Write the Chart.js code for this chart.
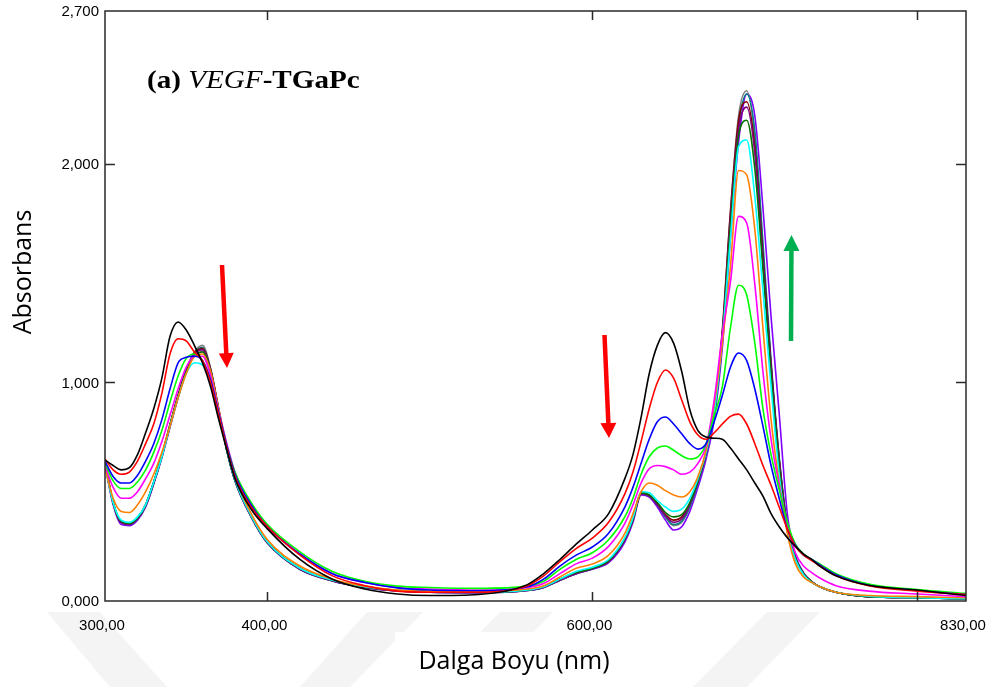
<!DOCTYPE html>
<html>
<head>
<meta charset="utf-8">
<script src="https://cdn.jsdelivr.net/npm/chart.js@4.4.1/dist/chart.umd.min.js"></script>
<style>
body { margin: 0; background: #fff; }
</style>
</head>
<body>
<canvas id="spectra" width="995" height="687"></canvas>
<script>
// wavelengths (nm) shared by every spectrum
const wavelengths = [300,305,310,315,320,325,330,335,340,345, 350,355,360,365,370,375,380,390,400,420,
    440,460,480,500,530,560,570,580,590,600, 610,620,625,630,635,640,645,650,655,660,
    665,670,675,680,685,690,695,700,705,710, 715,720,725,730,735,740,750,770,800,830];

const absBlack = [0.645,0.62,0.60,0.61,0.67,0.77,0.88,1.02,1.21,1.277, 1.24,1.17,1.09,0.98,0.83,0.69,0.56,0.42,0.33,0.19,
    0.10,0.055,0.032,0.025,0.03,0.075,0.125,0.19,0.26,0.325, 0.40,0.56,0.67,0.84,1.04,1.17,1.228,1.18,1.05,0.875,
    0.78,0.75,0.745,0.74,0.70,0.65,0.60,0.54,0.48,0.40, 0.34,0.29,0.25,0.215,0.19,0.16,0.115,0.072,0.05,0.025];
const absRed = [0.65,0.60,0.58,0.59,0.64,0.72,0.81,0.95,1.13,1.20, 1.19,1.14,1.10,1.00,0.85,0.70,0.57,0.43,0.34,0.21,
    0.115,0.07,0.045,0.04,0.04,0.07,0.115,0.18,0.24,0.288, 0.36,0.49,0.59,0.73,0.88,1.00,1.057,1.02,0.92,0.82,
    0.76,0.74,0.77,0.81,0.845,0.855,0.81,0.72,0.62,0.53, 0.43,0.33,0.25,0.21,0.185,0.16,0.115,0.07,0.045,0.03];
const absBlue = [0.64,0.57,0.54,0.54,0.575,0.64,0.72,0.83,0.97,1.09, 1.115,1.12,1.10,1.01,0.86,0.71,0.58,0.44,0.34,0.215,
    0.125,0.085,0.06,0.05,0.047,0.065,0.10,0.16,0.21,0.247, 0.31,0.43,0.52,0.63,0.74,0.82,0.842,0.81,0.765,0.72,
    0.695,0.72,0.82,0.94,1.07,1.135,1.10,0.97,0.80,0.62, 0.47,0.33,0.255,0.21,0.19,0.165,0.12,0.072,0.048,0.03];
const absGreen = [0.63,0.55,0.515,0.515,0.545,0.60,0.68,0.78,0.91,1.03, 1.11,1.13,1.10,1.01,0.86,0.71,0.59,0.45,0.35,0.225,
    0.135,0.09,0.068,0.062,0.058,0.068,0.09,0.145,0.19,0.221, 0.28,0.385,0.47,0.58,0.66,0.70,0.709,0.69,0.665,0.65,
    0.66,0.72,0.85,0.98,1.25,1.445,1.40,1.18,0.88,0.67, 0.51,0.36,0.26,0.215,0.19,0.17,0.125,0.078,0.052,0.035];
const absMagenta = [0.62,0.52,0.47,0.47,0.50,0.56,0.63,0.73,0.85,0.97, 1.07,1.12,1.12,1.03,0.87,0.72,0.59,0.44,0.345,0.215,
    0.125,0.085,0.062,0.055,0.05,0.062,0.08,0.125,0.17,0.196, 0.25,0.355,0.44,0.54,0.605,0.62,0.615,0.60,0.58,0.59,
    0.63,0.71,0.92,1.22,1.46,1.76,1.73,1.45,1.05,0.74, 0.53,0.35,0.22,0.16,0.13,0.105,0.07,0.045,0.032,0.02];
const absOrange = [0.61,0.47,0.41,0.405,0.44,0.50,0.58,0.68,0.80,0.93, 1.04,1.12,1.13,1.05,0.88,0.71,0.57,0.40,0.28,0.16,
    0.10,0.068,0.05,0.045,0.045,0.055,0.07,0.11,0.15,0.169, 0.21,0.31,0.40,0.50,0.54,0.53,0.505,0.485,0.476,0.50,
    0.57,0.69,0.90,1.18,1.53,1.97,1.95,1.70,1.25,0.83, 0.54,0.31,0.17,0.11,0.085,0.065,0.04,0.025,0.02,0.015];
const absCyan = [0.62,0.45,0.37,0.36,0.385,0.44,0.545,0.66,0.80,0.93, 1.04,1.09,1.08,1.01,0.86,0.69,0.555,0.39,0.27,0.15,
    0.095,0.065,0.048,0.042,0.04,0.05,0.065,0.10,0.135,0.155, 0.19,0.29,0.38,0.50,0.495,0.46,0.43,0.41,0.42,0.47,
    0.56,0.68,0.86,1.20,1.66,2.08,2.11,1.85,1.42,0.98, 0.58,0.32,0.19,0.12,0.085,0.065,0.04,0.022,0.015,0.01];
const absDkGreen = [0.63,0.45,0.365,0.355,0.38,0.44,0.545,0.665,0.805,0.935, 1.05,1.12,1.14,1.05,0.87,0.69,0.555,0.39,0.27,0.15,
    0.095,0.065,0.048,0.042,0.04,0.05,0.065,0.10,0.13,0.15, 0.185,0.285,0.375,0.495,0.485,0.45,0.405,0.385,0.395,0.45,
    0.55,0.68,0.86,1.21,1.72,2.13,2.20,1.98,1.52,1.04, 0.62,0.33,0.195,0.125,0.088,0.065,0.04,0.02,0.015,0.01];
const absPurple = [0.63,0.45,0.36,0.35,0.375,0.435,0.54,0.66,0.80,0.935, 1.055,1.13,1.15,1.055,0.875,0.69,0.55,0.385,0.265,0.145,
    0.092,0.062,0.046,0.04,0.038,0.048,0.062,0.095,0.125,0.148, 0.18,0.28,0.37,0.49,0.48,0.44,0.39,0.36,0.375,0.44,
    0.545,0.675,0.86,1.22,1.75,2.16,2.26,2.05,1.56,1.07, 0.64,0.34,0.195,0.125,0.088,0.065,0.04,0.02,0.015,0.01];
const absMaroon = [0.64,0.45,0.36,0.355,0.38,0.44,0.545,0.665,0.805,0.94, 1.055,1.135,1.155,1.06,0.875,0.69,0.555,0.39,0.27,0.15,
    0.095,0.065,0.048,0.042,0.04,0.05,0.065,0.10,0.13,0.15, 0.185,0.285,0.375,0.495,0.485,0.445,0.395,0.37,0.385,0.445,
    0.55,0.68,0.87,1.24,1.78,2.20,2.285,2.08,1.58,1.08, 0.65,0.34,0.195,0.125,0.088,0.065,0.04,0.02,0.015,0.01];
const absTeal = [0.63,0.45,0.36,0.35,0.375,0.435,0.54,0.66,0.80,0.935, 1.055,1.135,1.16,1.06,0.875,0.69,0.55,0.385,0.265,0.145,
    0.092,0.062,0.046,0.04,0.038,0.048,0.062,0.095,0.125,0.148, 0.18,0.28,0.37,0.49,0.48,0.44,0.385,0.35,0.365,0.43,
    0.54,0.67,0.85,1.19,1.72,2.17,2.32,2.15,1.64,1.10, 0.66,0.35,0.20,0.125,0.088,0.065,0.04,0.02,0.015,0.01];
const absGray = [0.64,0.45,0.36,0.355,0.38,0.44,0.545,0.665,0.81,0.945, 1.06,1.14,1.17,1.065,0.88,0.69,0.555,0.39,0.27,0.15,
    0.095,0.065,0.048,0.042,0.04,0.05,0.065,0.10,0.13,0.15, 0.185,0.285,0.375,0.495,0.485,0.445,0.385,0.345,0.36,0.43,
    0.545,0.675,0.86,1.22,1.78,2.22,2.335,2.12,1.60,1.08, 0.65,0.34,0.195,0.125,0.088,0.065,0.04,0.02,0.015,0.01];
const absViolet = [0.62,0.44,0.35,0.345,0.37,0.43,0.535,0.655,0.795,0.93, 1.05,1.13,1.15,1.055,0.875,0.69,0.55,0.385,0.265,0.145,
    0.092,0.062,0.046,0.04,0.038,0.048,0.062,0.095,0.125,0.145, 0.175,0.27,0.36,0.485,0.475,0.43,0.37,0.325,0.34,0.41,
    0.52,0.65,0.83,1.16,1.66,2.10,2.32,2.22,1.80,1.30, 0.86,0.40,0.21,0.13,0.09,0.065,0.04,0.02,0.015,0.01];

// axis ticks and labels
const xTickValues = [400, 600, 800];
const xLabelValues = [300, 400, 600, 830];
const yTickValues = [1, 2];
const yLabelValues = [0, 1, 2, 2.7];

const spectra = [absBlack, absRed, absBlue, absGreen, absMagenta, absOrange, absCyan,
    absDkGreen, absPurple, absMaroon, absTeal, absGray, absViolet];
const lineColors = ['#000000', '#ff0000', '#0000ff', '#00ff00', '#ff00ff', '#ff8000', '#00ffff',
    '#007000', '#800080', '#800000', '#008080', '#808080', '#8000ff'];

function drawArrow(ctx, x1, y1, x2, y2, shaftW, headW, headL, color) {
    let dx = x2 - x1, dy = y2 - y1;
    let len = Math.sqrt(dx * dx + dy * dy);
    let ux = dx / len, uy = dy / len;
    let px = -uy, py = ux;
    let bx = x2 - ux * headL, by = y2 - uy * headL;
    ctx.fillStyle = color;
    ctx.beginPath();
    ctx.moveTo(x1 + px * shaftW / 2, y1 + py * shaftW / 2);
    ctx.lineTo(bx + px * shaftW / 2, by + py * shaftW / 2);
    ctx.lineTo(bx + px * headW / 2, by + py * headW / 2);
    ctx.lineTo(x2, y2);
    ctx.lineTo(bx - px * headW / 2, by - py * headW / 2);
    ctx.lineTo(bx - px * shaftW / 2, by - py * shaftW / 2);
    ctx.lineTo(x1 - px * shaftW / 2, y1 - py * shaftW / 2);
    ctx.closePath();
    ctx.fill();
}

const decor = {
    id: 'decor',
    beforeDraw(chart) {
        let ctx = chart.ctx;
        ctx.save();
        ctx.fillStyle = '#ffffff';
        ctx.fillRect(0, 0, chart.width, chart.height);
        // faint watermark bands under the axis
        ctx.fillStyle = '#f4f4f4';
        [
            [[47, 612], [100, 612], [167, 687], [110, 687]],
            [[367, 612], [423, 612], [350, 687], [300, 687]],
            [[500, 612], [553, 612], [480, 687], [427, 687]],
            [[767, 612], [820, 612], [747, 687], [693, 687]]
        ].forEach(poly => {
            ctx.beginPath();
            ctx.moveTo(poly[0][0], poly[0][1]);
            poly.slice(1).forEach(p => ctx.lineTo(p[0], p[1]));
            ctx.closePath();
            ctx.fill();
        });
        ctx.fillStyle = '#ffffff';
        ctx.fillRect(395, 632, 278, 55);
        ctx.restore();
    },
    afterDatasetsDraw(chart) {
        let ctx = chart.ctx;
        let a = chart.chartArea;
        let xs = chart.scales.x, ys = chart.scales.y;
        ctx.save();

        // frame
        ctx.strokeStyle = '#2a2a2a';
        ctx.lineWidth = 1.5;
        ctx.strokeRect(a.left, a.top, a.right - a.left, a.bottom - a.top);

        // inner ticks
        ctx.beginPath();
        xTickValues.forEach(v => {
            let x = Math.round(xs.getPixelForValue(v)) + 0.5;
            ctx.moveTo(x, a.bottom); ctx.lineTo(x, a.bottom - 9);
            ctx.moveTo(x, a.top); ctx.lineTo(x, a.top + 9);
        });
        yTickValues.forEach(v => {
            let y = Math.round(ys.getPixelForValue(v)) + 0.5;
            ctx.moveTo(a.left, y); ctx.lineTo(a.left + 10, y);
            ctx.moveTo(a.right, y); ctx.lineTo(a.right - 10, y);
        });
        ctx.stroke();

        // tick labels
        ctx.fillStyle = '#000';
        ctx.font = '15px "Liberation Sans", Arial, sans-serif';
        ctx.textAlign = 'center';
        ctx.textBaseline = 'top';
        xLabelValues.forEach(v => {
            ctx.fillText(v.toFixed(2).replace('.', ','), xs.getPixelForValue(v) - 3, a.bottom + 17);
        });
        ctx.textAlign = 'right';
        ctx.textBaseline = 'middle';
        yLabelValues.forEach(v => {
            ctx.fillText(v.toFixed(3).replace('.', ','), a.left - 6, ys.getPixelForValue(v) + 1);
        });

        // axis titles
        ctx.font = '25px "Open Sans", sans-serif';
        ctx.textAlign = 'center';
        ctx.textBaseline = 'middle';
        ctx.fillText('Dalga Boyu (nm)', 514, 662);
        ctx.save();
        ctx.translate(24, 272);
        ctx.rotate(-Math.PI / 2);
        ctx.fillText('Absorbans', 0, 0);
        ctx.restore();

        // panel title
        ctx.save();
        ctx.translate(147, 88);
        ctx.scale(1.12, 1);
        ctx.textAlign = 'left';
        ctx.textBaseline = 'alphabetic';
        let tx = 0;
        [['bold 26px "Liberation Serif", serif', '(a) '],
         ['italic 26px "Liberation Serif", serif', 'VEGF'],
         ['bold 26px "Liberation Serif", serif', '-TGaPc']].forEach(part => {
            ctx.font = part[0];
            ctx.fillText(part[1], tx, 0);
            tx += ctx.measureText(part[1]).width;
        });
        ctx.restore();

        // arrows
        drawArrow(ctx, 222, 265, 227, 368, 4.5, 15, 15, '#ff0000');
        drawArrow(ctx, 604.5, 335, 609, 438, 4.5, 16, 15, '#ff0000');
        drawArrow(ctx, 791, 341, 791.5, 235, 4.5, 16, 16, '#00b050');

        ctx.restore();
    }
};

new Chart(document.getElementById('spectra'), {
    type: 'line',
    data: {
        datasets: spectra.map((vals, i) => ({
            data: vals.map((v, j) => ({ x: wavelengths[j], y: v })),
            borderColor: lineColors[i],
            borderWidth: 1.6,
            pointRadius: 0,
            fill: false,
            cubicInterpolationMode: 'monotone'
        }))
    },
    options: {
        responsive: false,
        animation: false,
        devicePixelRatio: 1,
        layout: { padding: { top: 11, right: 29, left: 0, bottom: 0 } },
        plugins: { legend: { display: false }, tooltip: { enabled: false } },
        scales: {
            x: {
                type: 'linear', min: 300, max: 830,
                grid: { display: false }, border: { display: false },
                ticks: { display: false },
                afterFit: s => { s.height = 86; }
            },
            y: {
                min: 0, max: 2.7,
                grid: { display: false }, border: { display: false },
                ticks: { display: false },
                afterFit: s => { s.width = 105; }
            }
        }
    },
    plugins: [decor]
});
</script>
</body>
</html>
